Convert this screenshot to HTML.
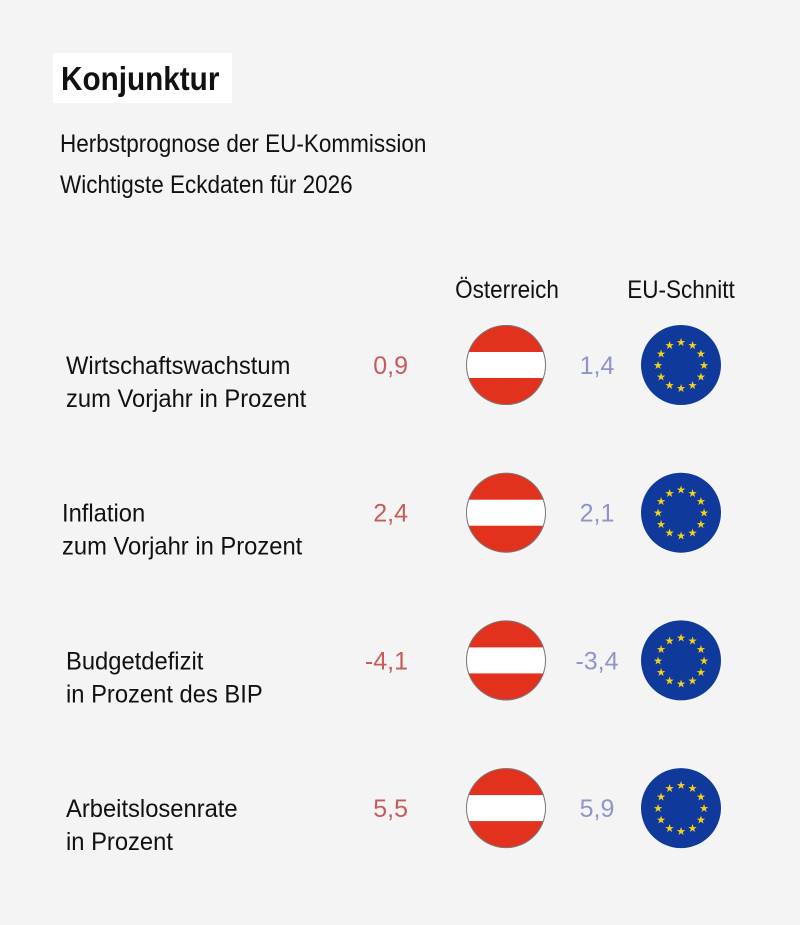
<!DOCTYPE html>
<html><head><meta charset="utf-8"><style>
body{margin:0;background:#f4f4f4;}
svg{display:block;}
text{font-family:"Liberation Sans Narrow","Liberation Sans",sans-serif;}
</style></head><body>
<svg id="c" width="800" height="925">
<rect x="0" y="0" width="800" height="925" fill="#f4f4f4"/>
<rect x="53" y="53" width="179" height="50" fill="#fff"/>
<text class="sq" x="61" y="90" font-size="33" font-weight="bold" fill="#111">Konjunktur</text>
<text class="sq" x="60" y="152" font-size="25" fill="#111">Herbstprognose der EU-Kommission</text>
<text class="sq" x="60" y="193" font-size="25" fill="#111">Wichtigste Eckdaten für 2026</text>
<text class="sq" x="507" y="298" font-size="25" fill="#111" text-anchor="middle">Österreich</text>
<text class="sq" x="681" y="298" font-size="25" fill="#111" text-anchor="middle">EU-Schnitt</text>
<g id="rows"></g>
</svg>
<script>
const labels1=["Wirtschaftswachstum","Inflation","Budgetdefizit","Arbeitslosenrate"];
const labels2=["zum Vorjahr in Prozent","zum Vorjahr in Prozent","in Prozent des BIP","in Prozent"];
const atValues=[0.9,2.4,-4.1,5.5];
const euValues=[1.4,2.1,-3.4,5.9];
const NS="http://www.w3.org/2000/svg";
const g=document.getElementById('rows');
const rowY=i=>365+i*147.7;
const fmt=v=>String(v.toFixed(1)).replace('.',',');
function mk(tag,attrs,txt){const e=document.createElementNS(NS,tag);for(const k in attrs)e.setAttribute(k,attrs[k]);if(txt!==undefined)e.textContent=txt;g.appendChild(e);return e;}
for(let i=0;i<labels1.length;i++){
 const y=rowY(i);
 let e=mk('text',{class:'sr',x:i==1?62:66,y:y+9,'font-size':25,fill:'#111'},labels1[i]);
 
 
 e=mk('text',{class:'sr',x:i==1?62:66,y:y+42,'font-size':25,fill:'#111'},labels2[i]);
 
 
 e=mk('text',{x:408,y:y+9,'font-size':25,fill:'#c85a5a','text-anchor':'end'},fmt(atValues[i]));
 
 
 e=mk('text',{x:597,y:y+9,'font-size':25,fill:'#8f95c8','text-anchor':'middle'},fmt(euValues[i]));
 
 
 const cid='clip'+i;
 const cp=mk('clipPath',{id:cid});
 const cc=document.createElementNS(NS,'circle');cc.setAttribute('cx',506);cc.setAttribute('cy',y);cc.setAttribute('r',40);cp.appendChild(cc);
 e=mk('rect',{x:466,y:y-40,width:80,height:80,fill:'#e2321e','clip-path':`url(#${cid})`});
 
 
 mk('rect',{x:466,y:y-13,width:80,height:26,fill:'#fff','clip-path':`url(#${cid})`});
 mk('circle',{cx:506,cy:y,r:39.5,fill:'none',stroke:'#777','stroke-width':1});
 e=mk('circle',{cx:681,cy:y,r:40,fill:'#0f3a9c'});
 
 
 for(let k=0;k<12;k++){const a=k*Math.PI/6;
  mk('text',{x:681+23*Math.sin(a),y:y-23*Math.cos(a)+4,'font-size':11,fill:'#f7d117','text-anchor':'middle'},'★');}
}
function squeeze(sel,f){document.querySelectorAll(sel).forEach(t=>{
 const w=t.getComputedTextLength();
 t.setAttribute('textLength',w*f);
 t.setAttribute('lengthAdjust','spacingAndGlyphs');
});}
squeeze('text.sq',0.9);
squeeze('text.sr',0.95);
</script>
</body></html>
